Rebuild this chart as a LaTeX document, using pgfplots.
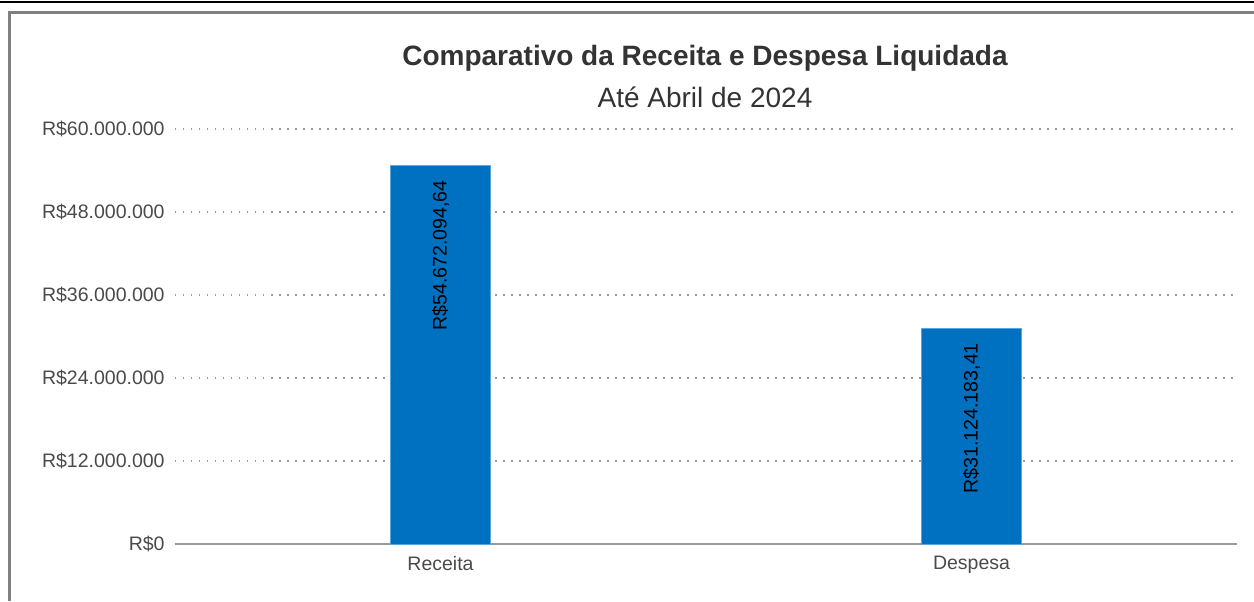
\documentclass[border=0pt]{standalone}
\usepackage{pgfplots}
\usepackage{pgfplotstable}
\pgfplotsset{compat=1.18}
\usepackage{fontspec}
\setmainfont{Liberation Sans}
\definecolor{barblue}{HTML}{0070C0}
\definecolor{baredge}{HTML}{5AA5DC}
\definecolor{ticktext}{HTML}{4A4A4A}
\definecolor{titletext}{HTML}{333333}
\definecolor{gridgray}{HTML}{9A9A9A}

\pgfplotstableread[col sep=semicolon]{
x;y;label
0;54672094.64;R\$54.672.094,64
1;31124183.41;R\$31.124.183,41
}\data

\begin{document}
\begin{tikzpicture}
\useasboundingbox (0,0) rectangle (627pt,300.5pt);
% page decorations
\draw[black, line width=1pt] (0,299.5pt) -- (627pt,299.5pt);
\draw[gray, line width=1.5pt] (4.5pt,0) -- (4.5pt,294pt) -- (627pt,294pt);
% titles
\node[font=\fontsize{14}{16}\selectfont\bfseries, text=titletext] at (352.5pt,271.5pt) {Comparativo da Receita e Despesa Liquidada};
\node[font=\fontsize{14}{16}\selectfont, text=titletext] at (352.5pt,252pt) {Até Abril de 2024};
\begin{axis}[
  at={(87.5pt,28.5pt)}, anchor=south west,
  scale only axis, width=531pt, height=207.5pt,
  xmin=-0.5, xmax=1.5, ymin=0, ymax=60e6,
  enlargelimits=false,
  scaled y ticks=false,
  ybar, bar width=50pt,
  xtick={0,1}, xticklabels={Receita,Despesa},
  ytick={0,12e6,24e6,36e6,48e6,60e6},
  yticklabels={R\$0,R\$12.000.000,R\$24.000.000,R\$36.000.000,R\$48.000.000,R\$60.000.000},
  tick style={draw=none},
  major tick length=0pt,
  separate axis lines,
  axis x line*=bottom, axis y line*=left,
  y axis line style={draw=none},
  x axis line style={draw=gridgray, line width=0.75pt, -},
  ymajorgrids,
  major grid style={draw=gridgray, line width=0.75pt, dash pattern=on 0.75pt off 3.25pt},
  yticklabel style={font=\fontsize{9.75}{11}\selectfont, text=ticktext, inner sep=0pt, xshift=-5pt},
  xticklabel style={font=\fontsize{9.75}{11}\selectfont, text=ticktext, inner sep=0pt, yshift=-6pt},
  point meta=explicit symbolic,
  nodes near coords,
  every node near coord/.append style={font=\fontsize{9.8}{11}\selectfont, text=black, inner sep=0pt, yshift=-7pt, rotate=90, anchor=east},
]
\addplot[fill=barblue, draw=baredge, line width=0.4pt] table[x=x, y=y, meta=label] {\data};
\end{axis}
\end{tikzpicture}
\end{document}
